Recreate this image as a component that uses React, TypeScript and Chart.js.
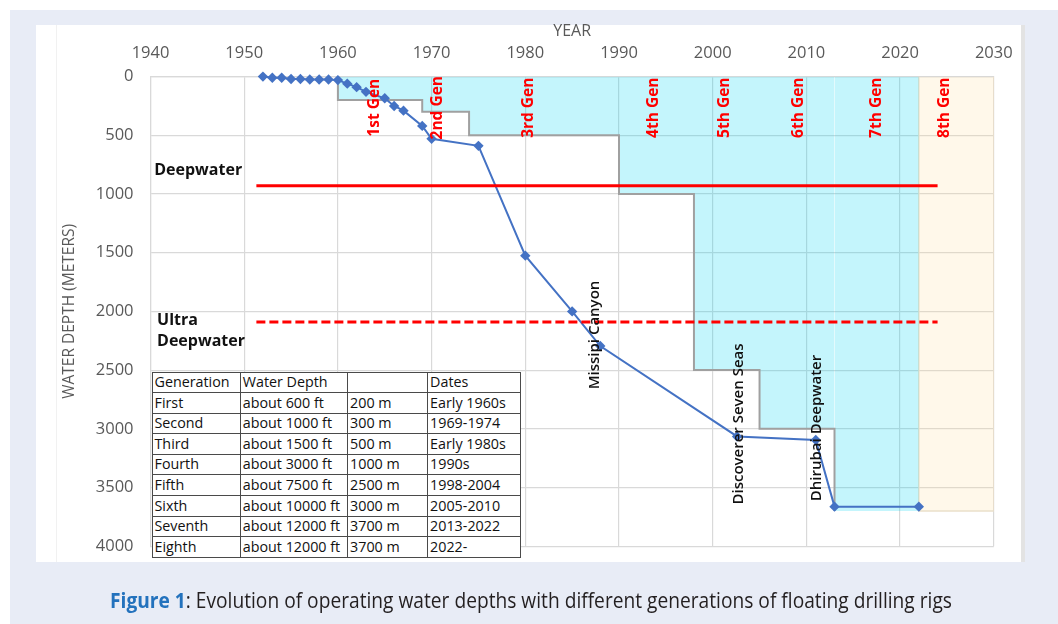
import React, { useEffect, useLayoutEffect, useRef, useState } from "react";
import { Chart, registerables } from "chart.js";

Chart.register(...registerables);

// ---------- data ----------
const rigYears = [1952, 1953, 1954, 1955, 1956, 1957, 1958, 1959, 1960, 1961, 1962, 1963, 1965, 1966, 1967, 1969, 1970, 1975, 1980, 1985, 1988, 2002.6, 2011, 2013, 2022];
const rigDepths = [0, 10, 10, 20, 20, 25, 25, 25, 30, 60, 90, 130, 185, 250, 290, 420, 530, 590, 1525, 2000, 2295, 3065, 3095, 3663, 3663];

const genStartYears = [1960, 1969, 1974, 1990, 1998, 2005, 2013];
const genDepths = [200, 300, 500, 1000, 2500, 3000, 3700];
const genEndYear = 2022;

const futureYears = [2022, 2030];
const futureDepth = 3700;

const deepwaterDepth = 930;
const ultraDeepwaterDepth = 2090;
const limitYears = [1951.3, 2024];

const xMin = 1940;
const xMax = 2030;
const xStep = 10;
const yMin = 0;
const yMax = 4000;
const yStep = 500;

const genLabels = ["1st Gen", "2nd Gen", "3rd Gen", "4th Gen", "5th Gen", "6th Gen", "7th Gen", "8th Gen"];
const genLabelYears = [1963.9, 1970.6, 1980.4, 1993.7, 2001.3, 2009.2, 2017.5, 2024.8];
const genLabelDepth = 265;

const rigNames = ["Missipi Canyon", "Discoverer Seven Seas", "Dhirubai Deepwater"];
const rigNameYears = [1987.4, 2002.8, 2011.1];
const rigNameDepths = [2201, 2959, 2993];

const zoneLabels = ["Deepwater", "Ultra", "Deepwater"];
const zoneLabelYears = [1940.4, 1940.7, 1940.7];
const zoneLabelDepths = [796, 2073, 2252];

const tableHeader = ["Generation", "Water Depth", "", "Dates"];
const tableGenerations = ["First", "Second", "Third", "Fourth", "Fifth", "Sixth", "Seventh", "Eighth"];
const tableFeet = ["about 600 ft", "about 1000 ft", "about 1500 ft", "about 3000 ft", "about 7500 ft", "about 10000 ft", "about 12000 ft", "about 12000 ft"];
const tableMeters = ["200 m", "300 m", "500 m", "1000 m", "2500 m", "3000 m", "3700 m", "3700 m"];
const tableDates = ["Early 1960s", "1969-1974", "Early 1980s", "1990s", "1998-2004", "2005-2010", "2013-2022", "2022-"];

const xTitle = "YEAR";
const yTitle = "WATER DEPTH (METERS)";
const captionLead = "Figure 1";
const captionText = ": Evolution of operating water depths with different generations of floating drilling rigs";

// ---------- styling ----------
const FONT = "'Open Sans', 'Noto Sans', sans-serif";
const GRID = "#d9d9d9";
const AXIS_TEXT = "#595959";

function buildStep() {
  const pts: { x: number; y: number }[] = [{ x: genStartYears[0], y: 0 }];
  genStartYears.forEach((s, i) => {
    const e = i < genStartYears.length - 1 ? genStartYears[i + 1] : genEndYear;
    pts.push({ x: s, y: genDepths[i] });
    pts.push({ x: e, y: genDepths[i] });
  });
  return pts;
}

const annotationPlugin = {
  id: "annotations",
  afterDatasetsDraw(chart: any) {
    const { ctx, scales } = chart;
    const x = scales.x;
    const y = scales.y;
    ctx.save();
    const rotText = (t: string, px: number, py: number) => {
      ctx.save();
      ctx.translate(px, py);
      ctx.rotate(-Math.PI / 2);
      ctx.fillText(t, 0, 0);
      ctx.restore();
    };
    ctx.textAlign = "center";
    ctx.textBaseline = "middle";
    ctx.fillStyle = "#ff0000";
    ctx.font = `bold 15.5px ${FONT}`;
    genLabels.forEach((t, i) => rotText(t, x.getPixelForValue(genLabelYears[i]), y.getPixelForValue(genLabelDepth)));

    ctx.fillStyle = "#111111";
    ctx.font = `600 15px ${FONT}`;
    rigNames.forEach((t, i) => rotText(t, x.getPixelForValue(rigNameYears[i]), y.getPixelForValue(rigNameDepths[i])));

    ctx.textAlign = "left";
    ctx.font = `bold 16px ${FONT}`;
    zoneLabels.forEach((t, i) => ctx.fillText(t, x.getPixelForValue(zoneLabelYears[i]), y.getPixelForValue(zoneLabelDepths[i])));
    ctx.restore();
  },
};

function Caption() {
  const ref = useRef<HTMLSpanElement>(null);
  const [scale, setScale] = useState(1);
  useLayoutEffect(() => {
    if (ref.current) {
      const w = ref.current.offsetWidth;
      if (w > 0) setScale(842 / w);
    }
  }, []);
  return (
    <div style={{ position: "absolute", left: 0, top: 585, width: 1062, textAlign: "center", whiteSpace: "nowrap" }}>
      <span
        ref={ref}
        style={{
          display: "inline-block",
          fontFamily: FONT,
          fontSize: 21.5,
          lineHeight: "30px",
          color: "#231f20",
          transform: `scaleX(${scale})`,
          transformOrigin: "center",
        }}
      >
        <span style={{ color: "#2372bd", fontWeight: 700 }}>{captionLead}</span>
        {captionText}
      </span>
    </div>
  );
}

function InfoTable() {
  const colW = [88.3, 107.3, 80, 92.7];
  const rowH = 20.6;
  const cell = (content: string, ci: number, key: string) => (
    <td
      key={key}
      style={{
        width: colW[ci],
        maxWidth: colW[ci],
        height: rowH,
        padding: "0 0 0 2px",
        border: "1.3px solid #4a4a4a",
        whiteSpace: "nowrap",
        overflow: "hidden",
        boxSizing: "border-box",
        lineHeight: `${rowH - 2}px`,
      }}
    >
      {content}
    </td>
  );
  const rows = [tableHeader, ...tableGenerations.map((g, i) => [g, tableFeet[i], tableMeters[i], tableDates[i]])];
  return (
    <table
      style={{
        position: "absolute",
        left: 151.5,
        top: 371.5,
        width: 368.5,
        borderCollapse: "collapse",
        tableLayout: "fixed",
        background: "#ffffff",
        fontFamily: FONT,
        fontSize: 14.3,
        color: "#111111",
        border: "1.8px solid #4a4a4a",
      }}
    >
      <tbody>
        {rows.map((r, ri) => (
          <tr key={ri} style={{ height: rowH }}>
            {r.map((c, ci) => cell(c, ci, `${ri}-${ci}`))}
          </tr>
        ))}
      </tbody>
    </table>
  );
}

export default function App() {
  const canvasRef = useRef<HTMLCanvasElement>(null);

  useEffect(() => {
    if (!canvasRef.current) return;
    const rigData = rigYears.map((yr, i) => ({ x: yr, y: rigDepths[i] }));
    const stepData = buildStep();
    const futureData = [
      { x: futureYears[0], y: 0 },
      { x: futureYears[0], y: futureDepth },
      { x: futureYears[1], y: futureDepth },
      { x: futureYears[1], y: 0 },
    ];
    const deepData = limitYears.map((yr) => ({ x: yr, y: deepwaterDepth }));
    const ultraData = limitYears.map((yr) => ({ x: yr, y: ultraDeepwaterDepth }));
    const nStep = stepData.length;

    const chart = new Chart(canvasRef.current, {
      type: "line",
      data: {
        datasets: [
          {
            label: "future",
            data: futureData,
            borderColor: "#eadfca",
            borderWidth: 1.5,
            backgroundColor: "rgba(255,220,150,0.2)",
            fill: { value: 0 },
            pointRadius: 0,
            order: 6,
          },
          {
            label: "generations",
            data: stepData,
            borderColor: "#a0a0a0",
            borderWidth: 2,
            backgroundColor: "rgba(0,210,240,0.23)",
            fill: { value: 0 },
            pointRadius: 0,
            order: 5,
            segment: {
              borderColor: (c: any) => (c.p0DataIndex === nStep - 2 ? "rgba(0,0,0,0)" : "#a0a0a0"),
            },
          },
          {
            label: "rigs",
            data: rigData,
            borderColor: "#4472c4",
            backgroundColor: "#4472c4",
            borderWidth: 2,
            pointStyle: "rectRot",
            pointRadius: 5.2,
            pointBorderWidth: 0,
            fill: false,
            clip: false,
            order: 4,
          },
          {
            label: "deepwater",
            data: deepData,
            borderColor: "#ff0000",
            borderWidth: 3,
            pointRadius: 0,
            fill: false,
            order: 2,
          },
          {
            label: "ultra",
            data: ultraData,
            borderColor: "#ff0000",
            borderWidth: 3,
            borderDash: [9, 4],
            pointRadius: 0,
            fill: false,
            order: 1,
          },
        ],
      } as any,
      options: {
        animation: false,
        responsive: true,
        maintainAspectRatio: false,
        layout: { padding: { left: 0, top: 0, right: 64.2, bottom: 77.8 } },
        plugins: { legend: { display: false }, tooltip: { enabled: false } },
        scales: {
          x: {
            type: "linear",
            position: "top",
            min: xMin,
            max: xMax,
            ticks: {
              stepSize: xStep,
              color: AXIS_TEXT,
              font: { family: FONT, size: 16.5 },
              padding: 13,
              maxRotation: 0,
              callback: (v: any) => String(v),
            },
            grid: { color: GRID, lineWidth: 1.2, drawTicks: false },
            border: { color: GRID, width: 1.2 },
            title: {
              display: true,
              text: xTitle,
              color: AXIS_TEXT,
              font: { family: FONT, size: 16 },
              padding: { top: 21.4, bottom: 0 },
            },
            afterFit: (s: any) => {
              s.height = 76.6;
            },
          },
          y: {
            type: "linear",
            reverse: true,
            min: yMin,
            max: yMax,
            ticks: {
              stepSize: yStep,
              color: AXIS_TEXT,
              font: { family: FONT, size: 16.5 },
              padding: 17,
              callback: (v: any) => String(v),
            },
            grid: { color: GRID, lineWidth: 1.2, drawTicks: false },
            border: { color: GRID, width: 1.2 },
            title: {
              display: true,
              text: yTitle,
              color: AXIS_TEXT,
              font: { family: FONT, size: 15.5 },
              padding: { top: 60.4, bottom: 0 },
            },
            afterFit: (s: any) => {
              s.width = 150.5;
            },
          },
        },
      } as any,
      plugins: [annotationPlugin],
    });
    return () => chart.destroy();
  }, []);

  return (
    <div style={{ position: "absolute", left: 0, top: 0, width: 1058, height: 624, background: "#ffffff", overflow: "hidden" }}>
      <div style={{ position: "absolute", left: 10, top: 10, width: 1048, height: 614, background: "#e8ecf6" }} />
      <div style={{ position: "absolute", left: 36, top: 25, width: 986, height: 537, background: "#ffffff" }} />
      <div style={{ position: "absolute", left: 56, top: 25, width: 1, height: 537, background: "#f1f1f1" }} />
      <div style={{ position: "absolute", left: 1021, top: 25, width: 4, height: 537, background: "#e3e3e3" }} />
      <div style={{ position: "absolute", left: 0, top: 0, width: 1058, height: 624 }}>
        <canvas ref={canvasRef} />
      </div>
      <InfoTable />
      <Caption />
    </div>
  );
}
